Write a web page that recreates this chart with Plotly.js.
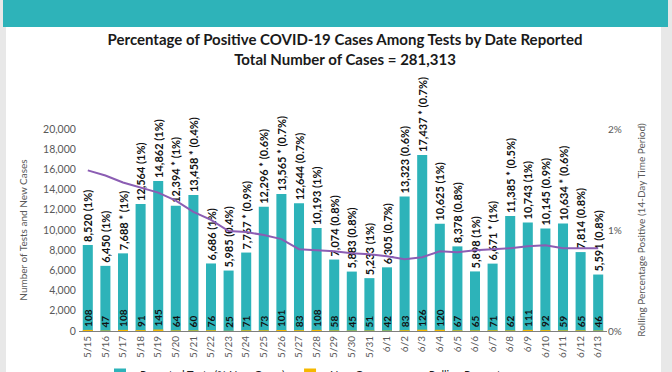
<!DOCTYPE html>
<html>
<head>
<meta charset="utf-8">
<script src="https://cdn.plot.ly/plotly-3.0.1.min.js"></script>
<style>html,body{margin:0;padding:0;background:#fff;overflow:hidden;}#chart{width:672px;height:410px;}</style>
</head>
<body>
<div id="chart"></div>
<script>
const dates = ['5/15','5/16','5/17','5/18','5/19','5/20','5/21','5/22','5/23','5/24','5/25','5/26','5/27','5/28','5/29','5/30','5/31','6/1','6/2','6/3','6/4','6/5','6/6','6/7','6/8','6/9','6/10','6/11','6/12','6/13'];
const reportedTests = [8520,6450,7688,12564,14862,12394,13458,6686,5985,7767,12296,13565,12644,10193,7074,5883,5233,6305,13323,17437,10625,8378,5898,6671,11385,10743,10145,10634,7814,5591];
const testNote = ['','',' *','','',' *',' *','','',' *',' *',' *','','','','','','','',' *','','','',' *',' *','','',' *','',''];
const testPct = ['1%','1%','1%','1%','1%','1%','0.4%','1%','0.4%','0.9%','0.6%','0.7%','0.7%','1%','0.8%','0.8%','1%','0.7%','0.6%','0.7%','1%','0.8%','1%','1%','0.5%','1%','0.9%','0.6%','0.8%','0.8%'];
const newCases = [108,47,108,91,145,64,60,76,25,71,73,101,83,108,58,45,51,42,83,126,120,67,65,71,62,111,92,59,65,46];
const rollingPct = [1.59,1.54,1.47,1.42,1.37,1.29,1.18,1.10,0.99,0.98,0.95,0.91,0.81,0.80,0.79,0.77,0.76,0.74,0.71,0.73,0.79,0.78,0.80,0.81,0.82,0.84,0.85,0.82,0.82,0.82];

const testLabels = reportedTests.map((v,i) => v.toLocaleString('en-US') + testNote[i] + ' (' + testPct[i] + ')');

// page is taller than the 372px window, so the legend is cut off like the reference
const W = 672, H = 410, L = 79, R = 607, T = 129, B = 331;
const px = x => (x - L) / (R - L);
const py = y => (B - y) / (B - T);

const FONT = 'Lato, "Open Sans", sans-serif';
const teal = '#2db3b9';

const traces = [
  {type:'bar', name:'Reported Tests (% New Cases)', x:dates, y:reportedTests,
   marker:{color:teal}, text:testLabels, textposition:'outside', textangle:-90,
   constraintext:'none', cliponaxis:false,
   textfont:{family:FONT, size:11, color:'#111', weight:'bold'}, hoverinfo:'x+y'},
  {type:'bar', name:'New Cases', x:dates, y:newCases,
   marker:{color:'#f5b800'}, text:newCases.map(String), textposition:'outside', textangle:-90,
   constraintext:'none', cliponaxis:false,
   textfont:{family:FONT, size:10, color:'#111', weight:'bold'}},
  {type:'scatter', mode:'lines', name:'Rolling Percentage', x:dates, y:rollingPct, yaxis:'y2',
   line:{color:'#8b5db3', width:2}}
];

const layout = {
  width:W, height:H,
  margin:{l:L, r:W-R, t:T, b:H-B, pad:0},
  paper_bgcolor:'#ffffff', plot_bgcolor:'rgba(0,0,0,0)',
  barmode:'overlay', bargap:0.43,
  font:{family:FONT, color:'#595959', size:10},
  showlegend:true,
  title:{text:'Percentage of Positive COVID-19 Cases Among Tests by Date Reported<br>Total Number of Cases = 281,313',
    x:345/W, xref:'container', xanchor:'center', y:1-45/H, yanchor:'middle', yref:'container',
    font:{family:FONT, size:15, color:'#1a1a1a', weight:'bold'}},
  xaxis:{type:'category', showgrid:false, showline:true, linecolor:'#7f7f7f', linewidth:1,
    ticks:'', tickangle:-90, tickfont:{size:10, color:'#595959'}, zeroline:false},
  yaxis:{range:[0,20000], dtick:2000, showgrid:false, zeroline:false, showline:false,
    tickformat:',d', ticks:'outside', ticklen:0, tickfont:{size:10.5, color:'#595959'},
    title:{text:'Number of Tests and New Cases', font:{size:10, color:'#595959'}, standoff:13}},
  yaxis2:{range:[0,2], dtick:1, overlaying:'y', side:'right', showgrid:false, zeroline:false,
    ticksuffix:'%', tickfont:{size:10, color:'#595959'},
    title:{text:'Rolling Percentage Positive (14-Day Time Period)', font:{size:10, color:'#595959'}, standoff:17}},
  legend:{orientation:'h', x:px(100), xanchor:'left', y:py(360), yanchor:'top',
    font:{size:11, color:'#1a1a1a'}, bgcolor:'rgba(0,0,0,0)'},
  shapes:[
    {type:'rect', xref:'paper', yref:'paper', x0:px(0), x1:px(6), y0:py(H), y1:py(0), fillcolor:'#e8e8e8', line:{width:0}, layer:'below'},
    {type:'rect', xref:'paper', yref:'paper', x0:px(661), x1:px(W), y0:py(H), y1:py(0), fillcolor:'#e8e8e8', line:{width:0}, layer:'below'},
    {type:'rect', xref:'paper', yref:'paper', x0:px(3), x1:px(668), y0:py(27), y1:py(0), fillcolor:'#2eb3b9', line:{width:0}, layer:'below'}
  ]
};

Plotly.newPlot('chart', traces, layout, {displayModeBar:false, staticPlot:true});
</script>
</body>
</html>
